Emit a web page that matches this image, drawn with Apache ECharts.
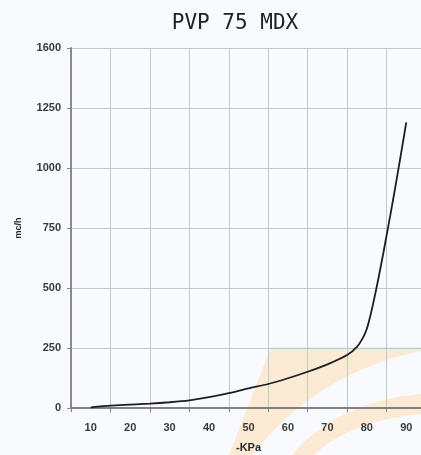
<!DOCTYPE html>
<html>
<head>
<meta charset="utf-8">
<script src="https://cdn.jsdelivr.net/npm/echarts@6/dist/echarts.min.js"></script>
<style>
html,body{margin:0;padding:0;background:#f8fafd;}
#chart{width:421px;height:455px;}
</style>
</head>
<body>
<div id="chart"></div>
<script>
const titleText = 'PVP 75 MDX';
const xCategories = ['10','20','30','40','50','60','70','80','90'];
const yTickLabels = ['0','250','500','750','1000','1250','1600'];
const pressure = [10, 15, 20, 25, 30, 35, 40, 45, 50, 55, 60, 65, 70, 75, 77.5, 79, 80, 81, 82, 83, 84, 85, 86, 87, 88, 89, 90];
const flow =     [3, 10, 14, 18, 24, 32, 45, 62, 82, 100, 124, 151, 182, 221, 255, 292, 330, 392, 465, 545, 630, 718, 808, 900, 995, 1092, 1190];
const xName = '-KPa';
const yName = 'mc/h';

// decorative watermark helper (cubic bezier sampling)
function bez(p0,p1,p2,p3,n){
  const out=[];
  for(let i=0;i<=n;i++){
    const t=i/n, u=1-t;
    out.push([
      u*u*u*p0[0]+3*u*u*t*p1[0]+3*u*t*t*p2[0]+t*t*t*p3[0],
      u*u*u*p0[1]+3*u*u*t*p1[1]+3*u*t*t*p2[1]+t*t*t*p3[1]
    ]);
  }
  return out;
}
const wm1 = [[229,455],[271,347],[421,347]].concat(bez([421,351],[330,370],[280,420],[252,455],20));
const wm2 = bez([292,455],[320,420],[370,398],[421,394],20).concat(bez([421,414],[380,418],[340,430],[314,455],20));

const chart = echarts.init(document.getElementById('chart'), null, {renderer:'canvas'});
const lblStyle = {color:'#3a3a3a', fontFamily:'Liberation Sans, Arial, sans-serif', fontWeight:'bold', fontSize:10};
chart.setOption({
  backgroundColor:'#f8fafd',
  animation:false,
  title:{
    text:titleText, left:230, top:8, textAlign:'center',
    textStyle:{fontFamily:'DejaVu Sans Mono, monospace', fontWeight:'normal', fontSize:21, color:'#222'}
  },
  graphic:[
    {type:'polygon', z:-1, silent:true, shape:{points:wm1}, style:{fill:'#fbe6cc', opacity:0.85}},
    {type:'polygon', z:-1, silent:true, shape:{points:wm2}, style:{fill:'#fbe6cc', opacity:0.85}}
  ],
  grid:{left:71, right:-5, top:48, bottom:47, containLabel:false, outerBoundsMode:'none'},
  xAxis:[
    {
      type:'category', data:xCategories, boundaryGap:true, position:'bottom',
      name:xName, nameLocation:'middle', nameGap:34,
      nameTextStyle:{color:'#2a2a2a', fontFamily:'Liberation Sans, Arial, sans-serif', fontWeight:'bold', fontSize:11},
      axisLine:{show:true, lineStyle:{color:'#808080', width:2}},
      axisTick:{show:true, alignWithLabel:false, length:4, lineStyle:{color:'#808080'}},
      axisLabel:Object.assign({}, lblStyle, {margin:14, fontSize:11}),
      splitLine:{show:true, lineStyle:{color:'#bccaca', width:1}}
    },
    {type:'value', min:5, max:95, show:false, splitLine:{show:false}}
  ],
  yAxis:{
    type:'value', min:0, max:1500, interval:250,
    name:yName, nameLocation:'middle', nameGap:48, nameRotate:90,
    nameTextStyle:{color:'#2a2a2a', fontFamily:'Liberation Sans, Arial, sans-serif', fontWeight:'bold', fontSize:9},
    axisLine:{show:true, lineStyle:{color:'#8a8a8a', width:2}},
    axisTick:{show:true, length:4, lineStyle:{color:'#8a8a8a'}},
    axisLabel:Object.assign({}, lblStyle, {margin:10, fontSize:11, formatter:function(v){return yTickLabels[Math.round(v/250)];}}),
    splitLine:{show:true, lineStyle:{color:'#bccaca', width:1}}
  },
  series:[{
    type:'line', xAxisIndex:1, yAxisIndex:0,
    data:pressure.map((p,i)=>[p, flow[i]]),
    smooth:0.25, showSymbol:false, z:5,
    lineStyle:{color:'#1e1e1e', width:1.8}
  }]
});
</script>
</body>
</html>
